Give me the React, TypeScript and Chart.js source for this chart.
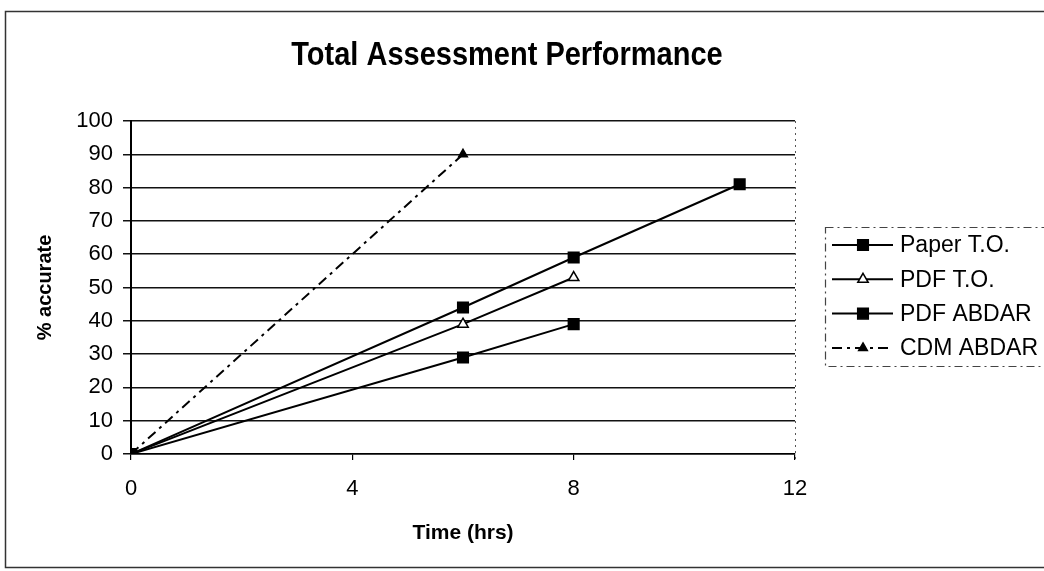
import React, { useEffect, useRef } from "react";
import { Chart, registerables } from "chart.js";

Chart.register(...registerables);

const chartTitle = "Total Assessment Performance";
const xAxisTitle = "Time (hrs)";
const yAxisTitle = "% accurate";

const seriesNames = ["Paper T.O.", "PDF T.O.", "PDF ABDAR", "CDM ABDAR"];

const paperHours = [0, 6, 8, 11];
const paperAccuracy = [0, 44, 59, 81];

const pdfToHours = [0, 6, 8];
const pdfToAccuracy = [0, 39, 53];

const pdfAbdarHours = [0, 6, 8];
const pdfAbdarAccuracy = [0, 29, 39];

const cdmHours = [0, 6];
const cdmAccuracy = [0, 90];

const xTicks = [0, 4, 8, 12];
const yTicks = [0, 10, 20, 30, 40, 50, 60, 70, 80, 90, 100];

const FONT = "'Liberation Sans', Arial, sans-serif";

function toPoints(xs: number[], ys: number[]) {
  return xs.map((x, i) => ({ x, y: ys[i] }));
}

function drawMarker(ctx: CanvasRenderingContext2D, style: string, r: number, x: number, y: number, fill: string, stroke: string) {
  ctx.save();
  ctx.beginPath();
  if (style === "rect") {
    const s = Math.SQRT1_2 * r;
    ctx.rect(x - s, y - s, 2 * s, 2 * s);
  } else {
    const edge = (3 * r) / Math.sqrt(3);
    const height = (edge * Math.sqrt(3)) / 2;
    ctx.moveTo(x, y - (2 * height) / 3);
    ctx.lineTo(x + edge / 2, y + height / 3);
    ctx.lineTo(x - edge / 2, y + height / 3);
    ctx.closePath();
  }
  ctx.fillStyle = fill;
  ctx.fill();
  ctx.lineWidth = 1.5;
  ctx.strokeStyle = stroke;
  ctx.stroke();
  ctx.restore();
}

const decorPlugin = {
  id: "decor",
  beforeDraw(chart: any) {
    const ctx = chart.ctx as CanvasRenderingContext2D;
    ctx.save();
    ctx.fillStyle = "#ffffff";
    ctx.fillRect(0, 0, chart.width, chart.height);
    ctx.strokeStyle = "#333";
    ctx.lineWidth = 1.5;
    ctx.strokeRect(5.5, 11.5, 1100, 556);
    ctx.fillStyle = "#000";
    ctx.font = `bold 29px ${FONT}`;
    ctx.textAlign = "center";
    ctx.textBaseline = "middle";
    ctx.translate(507, 56);
    ctx.scale(1, 1.12);
    ctx.fillText(chartTitle, 0, 0);
    ctx.restore();
  },
  beforeDatasetsDraw(chart: any) {
    const ctx = chart.ctx as CanvasRenderingContext2D;
    const a = chart.chartArea;
    ctx.save();
    ctx.strokeStyle = "#555";
    ctx.lineWidth = 1;
    ctx.setLineDash([2, 4]);
    ctx.beginPath();
    ctx.moveTo(a.right + 0.5, a.top);
    ctx.lineTo(a.right + 0.5, a.bottom + 8);
    ctx.stroke();
    ctx.restore();
  },
  afterDraw(chart: any) {
    const ctx = chart.ctx as CanvasRenderingContext2D;
    ctx.save();
    ctx.strokeStyle = "#444";
    ctx.lineWidth = 1.2;
    ctx.setLineDash([8, 4, 2, 4]);
    ctx.strokeRect(825.5, 227.5, 260, 139);
    ctx.setLineDash([]);
    const ds = chart.data.datasets;
    ds.forEach((d: any, i: number) => {
      const y = 245 + i * 34.3;
      ctx.save();
      ctx.strokeStyle = d.borderColor;
      ctx.lineWidth = d.borderWidth;
      ctx.setLineDash(d.borderDash || []);
      ctx.beginPath();
      ctx.moveTo(832, y);
      ctx.lineTo(893, y);
      ctx.stroke();
      ctx.restore();
      drawMarker(ctx, d.pointStyle, d.pointRadius, 863, y, d.pointBackgroundColor, d.pointBorderColor);
      ctx.fillStyle = "#000";
      ctx.font = `23px ${FONT}`;
      ctx.textAlign = "left";
      ctx.textBaseline = "middle";
      ctx.fillText(d.label, 900, y + 1);
    });
    ctx.restore();
  },
};

export default function App() {
  const ref = useRef<HTMLCanvasElement | null>(null);

  useEffect(() => {
    if (!ref.current) return;
    const base = {
      borderColor: "#000",
      borderWidth: 2,
      pointBorderColor: "#000",
      pointBorderWidth: 1.5,
      showLine: true,
      tension: 0,
    };
    const chart = new Chart(ref.current, {
      type: "scatter",
      data: {
        datasets: [
          {
            ...base,
            label: seriesNames[0],
            data: toPoints(paperHours, paperAccuracy),
            pointStyle: "rect",
            pointRadius: 7.5,
            pointBackgroundColor: "#000",
          },
          {
            ...base,
            label: seriesNames[1],
            data: toPoints(pdfToHours, pdfToAccuracy),
            pointStyle: "triangle",
            pointRadius: 6,
            pointBackgroundColor: "#fff",
          },
          {
            ...base,
            label: seriesNames[2],
            data: toPoints(pdfAbdarHours, pdfAbdarAccuracy),
            pointStyle: "rect",
            pointRadius: 7.5,
            pointBackgroundColor: "#000",
          },
          {
            ...base,
            label: seriesNames[3],
            data: toPoints(cdmHours, cdmAccuracy),
            pointStyle: "triangle",
            pointRadius: 5,
            pointBackgroundColor: "#000",
            borderDash: [10, 5, 3, 5],
          },
        ] as any,
      },
      options: {
        animation: false,
        responsive: false,
        devicePixelRatio: 1,
        layout: { padding: { left: 0, right: 249, top: 121, bottom: 0 } },
        plugins: {
          legend: { display: false },
          tooltip: { enabled: false },
          title: { display: false },
        },
        scales: {
          x: {
            type: "linear",
            min: 0,
            max: 12,
            afterBuildTicks: (s: any) => {
              s.ticks = xTicks.map((v) => ({ value: v }));
            },
            afterFit: (s: any) => {
              s.height = 117;
            },
            ticks: {
              color: "#000",
              font: { family: FONT, size: 22 },
              padding: 16,
              maxRotation: 0,
            },
            grid: {
              drawOnChartArea: false,
              drawTicks: true,
              tickLength: 6,
              color: "#000",
              lineWidth: 1.2,
            },
            border: { display: true, color: "#000", width: 1.5 },
            title: {
              display: true,
              text: xAxisTitle,
              color: "#000",
              font: { family: FONT, size: 21, weight: "bold" },
              padding: { top: 0, bottom: 25 },
            },
          },
          y: {
            type: "linear",
            min: 0,
            max: 100,
            afterBuildTicks: (s: any) => {
              s.ticks = yTicks.map((v) => ({ value: v }));
            },
            afterFit: (s: any) => {
              s.width = 131;
            },
            ticks: {
              color: "#000",
              font: { family: FONT, size: 22 },
              padding: 10,
            },
            grid: {
              color: "#111",
              lineWidth: 1.5,
              tickLength: 8,
            },
            border: { display: true, color: "#000", width: 2 },
            title: {
              display: true,
              text: yAxisTitle,
              color: "#000",
              font: { family: FONT, size: 20, weight: "bold" },
              padding: { top: 33, bottom: 0 },
            },
          },
        },
      } as any,
      plugins: [decorPlugin],
    });
    return () => chart.destroy();
  }, []);

  return (
    <div style={{ position: "absolute", left: 0, top: 0, width: 1044, height: 571, overflow: "hidden", background: "#fff" }}>
      <canvas ref={ref} width={1044} height={571} style={{ display: "block", width: 1044, height: 571 }} />
    </div>
  );
}
